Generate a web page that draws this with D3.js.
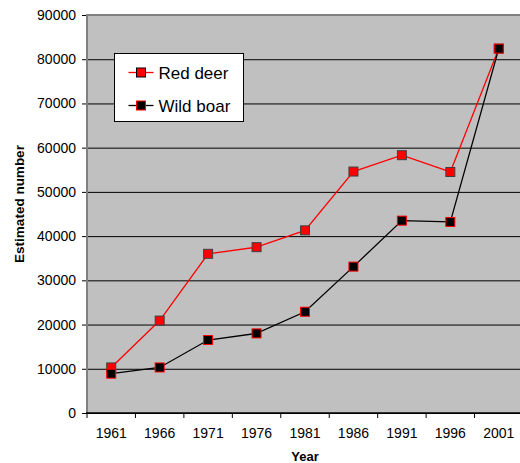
<!DOCTYPE html>
<html>
<head>
<meta charset="utf-8">
<script src="https://cdn.jsdelivr.net/npm/d3@7"></script>
<style>
  body { margin: 0; background: #fff; }
  svg { display: block; font-family: "Liberation Sans", Arial, sans-serif; }
</style>
</head>
<body>
<div id="chart"></div>
<script>
// data
const years = ['1961', '1966', '1971', '1976', '1981', '1986', '1991', '1996', '2001'];
const redDeer = [10300, 20900, 36000, 37500, 41300, 54600, 58300, 54500, 82400];
const wildBoar = [8900, 10300, 16500, 18000, 22900, 33100, 43500, 43200, 82400];
const yTicks = [0, 10000, 20000, 30000, 40000, 50000, 60000, 70000, 80000, 90000];

const width = 520;
const height = 463;
const margin = { top: 15, right: -3, bottom: 50, left: 87 };
const plotW = width - margin.left - margin.right;
const plotH = height - margin.top - margin.bottom;

const svg = d3.select('#chart')
    .append('svg')
    .attr('width', width)
    .attr('height', height);

const chart = svg.append('g')
    .attr('transform', `translate(${margin.left},${margin.top})`);

const xScale = d3.scaleBand()
    .domain(years)
    .range([0, plotW])
    .padding(0);
const yScale = d3.scaleLinear()
    .domain([0, 90000])
    .range([plotH, 0]);

// plot background
chart.append('rect')
    .attr('width', plotW)
    .attr('height', plotH)
    .attr('fill', '#c0c0c0');

// gridlines
chart.append('g')
    .call(d3.axisLeft(yScale).tickValues(yTicks).tickSize(-plotW).tickFormat(''))
    .call(g => g.select('.domain').remove())
    .call(g => g.selectAll('line').attr('stroke', '#000').attr('stroke-width', 1));

// top border
chart.append('line')
    .attr('x1', 0).attr('x2', plotW)
    .attr('y1', 0).attr('y2', 0)
    .attr('stroke', '#808080')
    .attr('stroke-width', 2);

// y axis
const yAxis = chart.append('g')
    .call(d3.axisLeft(yScale).tickValues(yTicks).tickSize(5).tickPadding(6).tickFormat(d3.format('d')));
yAxis.select('.domain').remove();
yAxis.selectAll('text').style('font-size', '14px').attr('fill', '#000');
yAxis.selectAll('line').attr('stroke', '#000');
chart.append('line')
    .attr('x1', 0).attr('x2', 0)
    .attr('y1', -1).attr('y2', plotH)
    .attr('stroke', '#808080')
    .attr('stroke-width', 2);

// x axis
const xAxis = chart.append('g')
    .attr('transform', `translate(0,${plotH})`)
    .call(d3.axisBottom(xScale).tickSize(0).tickPadding(15));
xAxis.select('.domain').remove();
xAxis.selectAll('text').style('font-size', '14px').attr('fill', '#000');
const xBounds = years.map(d => xScale(d)).concat([xScale.range()[1]]);
xAxis.selectAll('.xtick')
    .data(xBounds)
    .enter()
    .append('line')
    .attr('x1', d => d).attr('x2', d => d)
    .attr('y1', 0).attr('y2', 5)
    .attr('stroke', '#000');
xAxis.append('line')
    .attr('x1', -1).attr('x2', plotW)
    .attr('y1', 0).attr('y2', 0)
    .attr('stroke', '#000')
    .attr('stroke-width', 1.5);

// axis titles
svg.append('text')
    .attr('x', margin.left + plotW / 2)
    .attr('y', 461)
    .attr('text-anchor', 'middle')
    .style('font-size', '13px')
    .style('font-weight', 'bold')
    .text('Year');
svg.append('text')
    .attr('transform', 'translate(24,204) rotate(-90)')
    .attr('text-anchor', 'middle')
    .style('font-size', '13.5px')
    .style('font-weight', 'bold')
    .text('Estimated number');

// series
const series = [
    { name: 'Red deer', values: redDeer, line: '#ff0000', fill: '#ff0000', stroke: '#404040' },
    { name: 'Wild boar', values: wildBoar, line: '#000000', fill: '#000000', stroke: '#ff0000' }
];
const cx = i => xScale(years[i]) + xScale.bandwidth() / 2;
const lineGen = d3.line()
    .x((d, i) => cx(i))
    .y(d => yScale(d));
const msize = 9;

series.forEach(s => {
    chart.append('path')
        .datum(s.values)
        .attr('d', lineGen)
        .attr('fill', 'none')
        .attr('stroke', s.line)
        .attr('stroke-width', 1.3);
});
series.forEach(s => {
    chart.selectAll(null)
        .data(s.values)
        .enter()
        .append('rect')
        .attr('x', (d, i) => cx(i) - msize / 2)
        .attr('y', d => yScale(d) - msize / 2)
        .attr('width', msize)
        .attr('height', msize)
        .attr('fill', s.fill)
        .attr('stroke', s.stroke)
        .attr('stroke-width', 1);
});

// legend
const legend = svg.append('g')
    .attr('transform', 'translate(114.5,53.5)');
legend.append('rect')
    .attr('width', 129)
    .attr('height', 68)
    .attr('fill', '#fff')
    .attr('stroke', '#000')
    .attr('stroke-width', 1);
series.forEach((s, i) => {
    const y = 19 + i * 33;
    legend.append('line')
        .attr('x1', 14).attr('x2', 39)
        .attr('y1', y).attr('y2', y)
        .attr('stroke', s.line)
        .attr('stroke-width', 1.3);
    legend.append('rect')
        .attr('x', 26.5 - msize / 2)
        .attr('y', y - msize / 2)
        .attr('width', msize)
        .attr('height', msize)
        .attr('fill', s.fill)
        .attr('stroke', s.stroke === '#404040' ? '#000' : s.stroke);
    legend.append('text')
        .attr('x', 44)
        .attr('y', y + 6)
        .style('font-size', '17px')
        .text(s.name);
});
</script>
</body>
</html>
